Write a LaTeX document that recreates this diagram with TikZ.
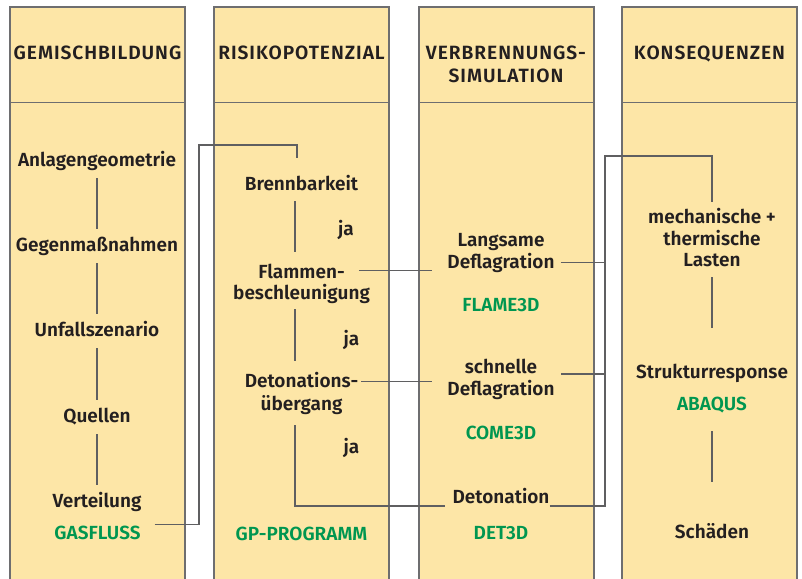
\documentclass[tikz,border=0pt]{standalone}
\usepackage{fontspec}
\setmainfont{Fira Sans SemiBold}
\newfontfamily\hdrfont[LetterSpace=5]{Fira Sans SemiBold}
\usetikzlibrary{calc}
\definecolor{colfill}{RGB}{253,230,167}
\definecolor{colborder}{RGB}{110,110,112}
\definecolor{lin}{RGB}{95,95,97}
\definecolor{txt}{RGB}{35,31,32}
\definecolor{prog}{RGB}{0,150,80}
\begin{document}
\begin{tikzpicture}[x=1pt,y=-1pt,
  column/.style={draw=colborder,line width=1.2pt,fill=colfill},
  item/.style={font=\fontsize{19}{22}\selectfont, text=txt, inner sep=0pt,
    text height=13pt, text depth=0pt, anchor=south},
  progname/.style={item,text=prog},
  hdr/.style={item,font=\hdrfont\fontsize{19.2}{22}\selectfont},
  conn/.style={draw=lin,line width=1.1pt}]
\clip (0,0) rectangle (802,578);
\fill[white] (0,0) rectangle (802,578);
% columns
\foreach \x in {10,214,419,622} {
  \path[column] (\x,7) rectangle ++(175,600);
  \draw[colborder,line width=1.2pt] (\x,102.5) -- ++(175,0);
}
% headers
\node[hdr] (h1) at (97.5,60) {GEMISCHBILDUNG};
\node[hdr] (h2) at (301.5,60) {RISIKOPOTENZIAL};
\node[hdr] (h3a) at (506,60) {VERBRENNUNGS-};
\node[hdr] (h3b) at (506,83) {SIMULATION};
\node[hdr] (h4) at (709.5,60) {KONSEQUENZEN};
% column 1
\node[item] (anl) at (97,167) {Anlagengeometrie};
\node[item] (geg) at (97,252) {Gegenmaßnahmen};
\node[item] (unf) at (97,337) {Unfallszenario};
\node[item] (que) at (97,423) {Quellen};
\node[item] (ver) at (97,508) {Verteilung};
\node[progname] (gas) at (97.5,540) {GASFLUSS};
\draw[conn] ($(anl.south)+(0,11)$) -- ($(geg.north)+(0,-10)$);
\draw[conn] ($(geg.south)+(0,11)$) -- ($(unf.north)+(0,-10)$);
\draw[conn] ($(unf.south)+(0,11)$) -- ($(que.north)+(0,-10)$);
\draw[conn] ($(que.south)+(0,11)$) -- ($(ver.north)+(0,-10)$);
% column 2
\node[item] (bre) at (301.5,191) {Brennbarkeit};
\node[item] (flaA) at (301.5,279) {Flammen-};
\node[item] (flaB) at (301.5,300) {beschleunigung};
\node[item] (detA) at (301.5,388) {Detonations-};
\node[item] (detB) at (301.5,411) {übergang};
\node[item] (ja1) at (346,236) {ja};
\node[item] (ja2) at (351.5,346) {ja};
\node[item] (ja3) at (351.5,454) {ja};
\node[progname] (gp) at (301.5,541) {GP-PROGRAMM};
\coordinate (v2) at (295,0);
\draw[conn] ($(bre.south -| v2)+(0,10)$) -- ($(flaA.north -| v2)+(0,-14)$);
\draw[conn] ($(flaB.south -| v2)+(0,9)$) -- ($(detA.north -| v2)+(0,-14)$);
% column 3
\node[item] (lanA) at (501,247) {Langsame};
\node[item] (lanB) at (501,269) {Deflagration};
\node[progname] (flame) at (501,312) {FLAME3D};
\node[item] (schA) at (501,374) {schnelle};
\node[item] (schB) at (501,396) {Deflagration};
\node[progname] (come) at (501,440) {COME3D};
\node[item] (deto) at (501,504) {Detonation};
\node[progname] (det3d) at (501,540) {DET3D};
% column 4
\node[item] (mecA) at (712,224) {mechanische +};
\node[item] (mecB) at (712,246) {thermische};
\node[item] (mecC) at (712,267) {Lasten};
\node[item] (str) at (712,379) {Strukturresponse};
\node[progname] (aba) at (712,411) {ABAQUS};
\node[item] (sch) at (712,539) {Schäden};
\draw[conn] ($(mecC.south)+(0,10)$) -- ($(str.north)+(0,-38)$);
\draw[conn] ($(aba.south)+(0,20)$) -- ($(sch.north)+(0,-44)$);
% GASFLUSS -> Brennbarkeit
\coordinate (gbend) at (199,145);
\draw[conn] ($(gas.north east)+(14,-2)$) -| (gbend) -| ($(bre.north)+(-4.5,-20)$);
% Risiko -> Verbrennung
\coordinate (lq) at ($(lanB.west)+(-15,0)$);
\coordinate (sq) at ($(schB.west)+(-15,0)$);
\coordinate (fl1) at ($(flaA.east)+(14,-1.5)$);
\coordinate (dt1) at ($(detA.east)+(3,0)$);
\draw[conn] (fl1) -- (fl1 -| lq);
\draw[conn] (dt1) -- (dt1 -| sq);
\draw[conn] ($(detB.south -| v2)+(0,14)$) |- ($(deto.south west)+(-7,2)$);
% Verbrennung -> Konsequenzen
\coordinate (bus) at (605,156);
\draw[conn] ($(deto.south east)+(0,2)$) -| (bus) -| ($(mecA.north)+(0,-9)$);
\coordinate (r1) at ($(lanB.east)+(6,0)$);
\coordinate (r2) at ($(schA.south east)+(24,0)$);
\draw[conn] (r1) -- (r1 -| bus);
\draw[conn] (r2) -- (r2 -| bus);
\end{tikzpicture}
\end{document}
